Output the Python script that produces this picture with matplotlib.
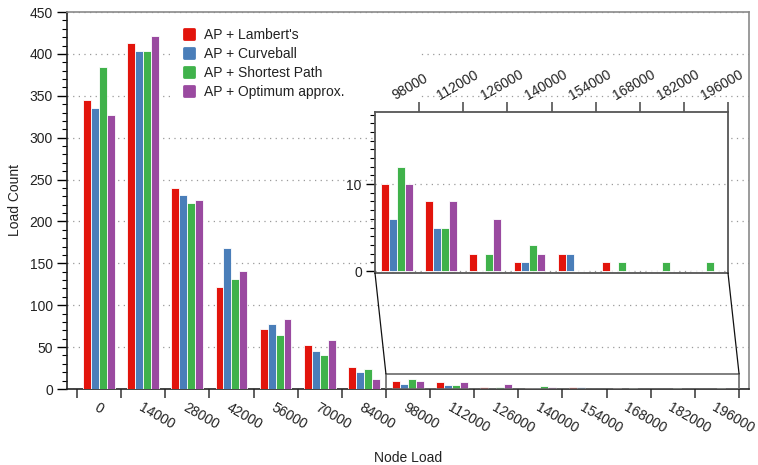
import matplotlib
matplotlib.use("Agg")
import matplotlib.pyplot as plt
import numpy as np
from matplotlib.lines import Line2D
from matplotlib.markers import MarkerStyle
from matplotlib.patches import ConnectionPatch, Rectangle
from matplotlib.ticker import MultipleLocator

plt.rcParams["font.family"] = ["Liberation Sans", "DejaVu Sans"]
plt.rcParams["font.size"] = 10

# histogram counts per 14000-wide bin of node load
bin_width = 14000
bin_labels = [str(k * bin_width) for k in range(15)]
series_names = ["AP + Lambert's", "AP + Curveball", "AP + Shortest Path", "AP + Optimum approx."]
lambert = [345, 413, 240, 122, 72, 53, 26, 10, 8, 2, 1, 2, 1, 0, 0]
curveball = [335, 404, 232, 168, 77, 45, 20, 6, 5, 0, 1, 2, 0, 0, 0]
shortest = [384, 404, 222, 131, 65, 40, 24, 12, 5, 2, 3, 0, 1, 1, 1]
optimum = [327, 421, 226, 141, 83, 59, 12, 10, 8, 6, 2, 0, 0, 0, 0]
colors = ["#e2140c", "#4a7eb9", "#40b24b", "#9a4aa0"]

W, H = 758, 465
series = [lambert, curveball, shortest, optimum]
n_bins = len(bin_labels)
edges = np.arange(n_bins + 1) * bin_width
centers = edges[:-1] + bin_width / 2
bar_w = bin_width * 0.18
grid_kw = dict(color="#9a9a9a", linestyle=(0, (1, 3.5)), linewidth=0.9)


def draw_bars(ax):
    for i, (vals, c) in enumerate(zip(series, colors)):
        ax.bar(centers + (i - 1.5) * bar_w, vals, width=bar_w, color=c,
               edgecolor="white", linewidth=0.6, zorder=3)


fig = plt.figure(figsize=(W / 100, H / 100), dpi=100)
ax = fig.add_axes([67 / W, 1 - 389 / H, 682 / W, 377 / H])
draw_bars(ax)

span = edges[-1]
ax.set_xlim(-0.015 * span, 1.015 * span)
ax.set_ylim(0, 450)
ax.set_xticks(edges)
ax.set_xticklabels([])
ax.set_xticks(centers, minor=True)
ax.set_xticklabels(bin_labels, minor=True, rotation=-30, ha="left", va="top",
                   rotation_mode="anchor")
ax.tick_params(axis="x", which="major", length=6.5, width=1.1, color="#333333")
ax.tick_params(axis="x", which="minor", length=0, pad=8.5, labelcolor="#222222")
ax.yaxis.set_major_locator(MultipleLocator(50))
ax.yaxis.set_minor_locator(MultipleLocator(10))
ax.tick_params(axis="y", which="major", length=7, width=1.0, pad=3, labelcolor="#222222")
ax.tick_params(axis="y", which="minor", length=3.5, width=0.8)
ax.yaxis.grid(True, **grid_kw)
ax.set_axisbelow(True)
for s in ["left", "bottom"]:
    ax.spines[s].set_color("#222222")
    ax.spines[s].set_linewidth(1.2)
for s in ["top", "right"]:
    ax.spines[s].set_color("#8a8a8a")
    ax.spines[s].set_linewidth(1.2)

ax.set_xlabel("Node Load", fontsize=10, color="#222222")
ax.xaxis.set_label_coords(0.5, -0.165)
ax.set_ylabel("Load Count", fontsize=10, color="#222222")
ax.yaxis.set_label_coords(-0.066, 0.5)

handles = [Line2D([], [], linestyle="none", marker=MarkerStyle("s", joinstyle="round"),
                  markersize=7.5, markerfacecolor=c, markeredgecolor=c, markeredgewidth=2)
           for c in colors]
leg = ax.legend(handles, series_names, loc="upper left",
                bbox_to_anchor=(172 / W, 1 - 110 / H, 248 / W, 88 / H),
                bbox_transform=fig.transFigure, mode="expand", borderaxespad=0,
                borderpad=0.4, handlelength=1.6, handletextpad=0.3,
                labelspacing=0.36, fontsize=10, frameon=True, fancybox=False)
leg.get_frame().set_facecolor("white")
leg.get_frame().set_edgecolor("none")
leg.get_frame().set_alpha(1)
for t in leg.get_texts():
    t.set_color("#222222")

# zoomed inset for the tail of the distribution
zoom_x0, zoom_x1, zoom_top = edges[7], edges[-1], 18
axins = fig.add_axes([375 / W, 1 - 273 / H, 353 / W, 161 / H])
draw_bars(axins)
axins.set_xlim(zoom_x0, zoom_x1)
axins.set_ylim(-0.23, 18.3)
axins.xaxis.tick_top()
axins.set_xticks(edges[8:])
axins.set_xticklabels([])
axins.set_xticks(centers[7:], minor=True)
axins.set_xticklabels(bin_labels[7:], minor=True, rotation=30, ha="left", va="bottom",
                      rotation_mode="anchor")
axins.tick_params(axis="x", which="major", top=True, bottom=False, length=7,
                  width=1.1, color="#444444")
axins.tick_params(axis="x", which="minor", top=True, bottom=False, length=0, pad=6.5,
                  labeltop=True, labelbottom=False, labelcolor="#222222")
axins.set_yticks([0, 10])
axins.yaxis.set_minor_locator(MultipleLocator(1))
axins.tick_params(axis="y", which="major", length=6.5, width=1.0, pad=3,
                  labelcolor="#222222")
axins.tick_params(axis="y", which="minor", length=3.5, width=0.8)
axins.yaxis.grid(True, **grid_kw)
axins.set_axisbelow(True)
for s in axins.spines.values():
    s.set_color("#555555")
    s.set_linewidth(1.3)

ax.add_patch(Rectangle((zoom_x0, 0), zoom_x1 - zoom_x0, zoom_top, facecolor="none",
                       edgecolor="#6a6a6a", linewidth=1.2, zorder=4))
for xa, xm in [(0, zoom_x0), (1, zoom_x1)]:
    con = ConnectionPatch(xyA=(xa, 0), coordsA=axins.transAxes,
                          xyB=(xm, zoom_top), coordsB=ax.transData,
                          color="#111111", linewidth=0.9)
    fig.add_artist(con)

fig.savefig("out.png", dpi=100)
